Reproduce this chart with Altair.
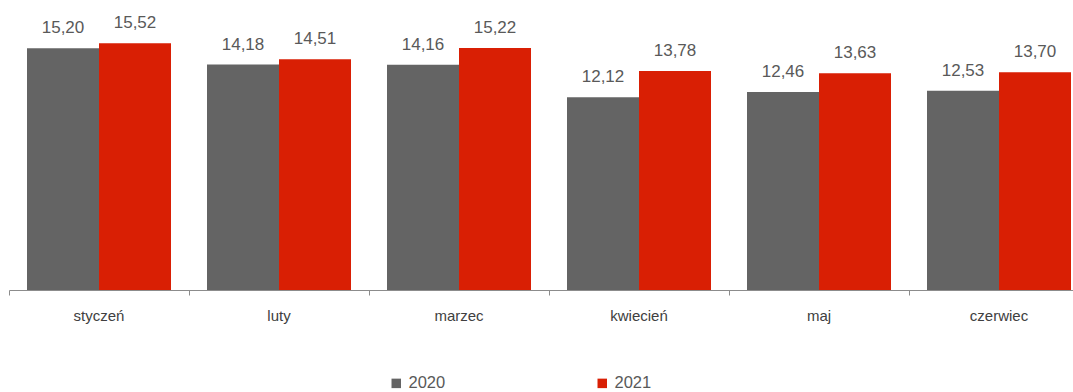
import altair as alt
import pandas as pd

months = ["styczeń", "luty", "marzec", "kwiecień", "maj", "czerwiec"]
v2020 = [15.20, 14.18, 14.16, 12.12, 12.46, 12.53]
v2021 = [15.52, 14.51, 15.22, 13.78, 13.63, 13.70]
series = ["2020", "2021"]
colors = ["#646464", "#d91f04"]

rows = []
for m, a, b in zip(months, v2020, v2021):
    rows.append({"month": m, "year": "2020", "value": a})
    rows.append({"month": m, "year": "2021", "value": b})
df = pd.DataFrame(rows)
df["label"] = df["value"].map(lambda v: f"{v:.2f}".replace(".", ","))

x = alt.X("month:N", sort=months, title=None,
          scale=alt.Scale(range=[0, 1080], paddingInner=0.2, paddingOuter=0.1),
          axis=alt.Axis(labelAngle=0, labelFont="Liberation Sans", labelFontSize=15,
                        labelColor="#404040", domainColor="#8c8c8c", tickColor="#8c8c8c",
                        tickSize=5, bandPosition=-0.125, labelPadding=13, domainWidth=1))
y = alt.Y("value:Q", title=None, scale=alt.Scale(domain=[0, 18.24], nice=False),
          axis=None)
xo = alt.XOffset("year:N", sort=series)

bars = alt.Chart(df).mark_bar().encode(
    x=x, y=y, xOffset=xo,
    color=alt.Color("year:N", sort=series,
                    scale=alt.Scale(domain=series, range=colors),
                    legend=alt.Legend(title=None, orient="none", direction="horizontal",
                                      legendX=379, legendY=375, symbolType="square",
                                      symbolSize=90, symbolStrokeWidth=0,
                                      labelFont="Liberation Sans", labelFontSize=16.5,
                                      labelColor="#595959", columnPadding=148,
                                      labelOffset=4)),
)
text = alt.Chart(df).mark_text(dy=-15, font="Liberation Sans", fontSize=17,
                               color="#595959", baseline="alphabetic").encode(
    x=x, y=y, xOffset=xo, text="label:N")

chart = (bars + text).properties(
    width=1064, height=290,
    padding={"left": 9, "top": 0, "right": 0, "bottom": 102},
    autosize=alt.AutoSizeParams(type="none"),
).configure_view(stroke=None)

chart.save("out.html", embed_options={"renderer": "svg", "actions": False})
